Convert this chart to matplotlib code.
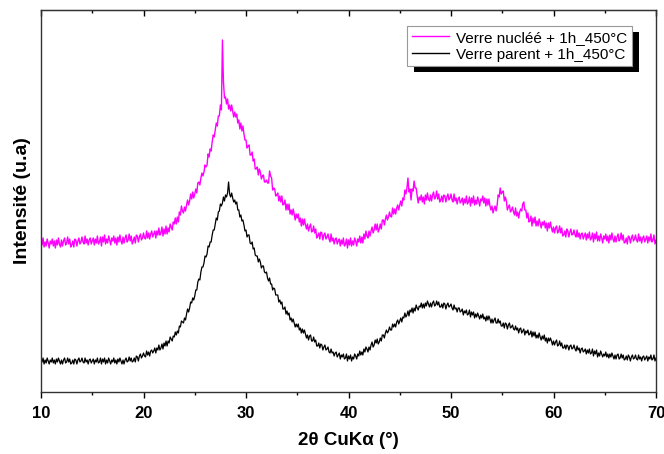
import numpy as np
import matplotlib
matplotlib.use("Agg")
import matplotlib.pyplot as plt
from matplotlib.patches import Rectangle
from matplotlib.ticker import MultipleLocator

plt.rcParams['font.family'] = ['Liberation Sans', 'DejaVu Sans']

# 2-theta grid: 10 -> 70 deg, step 0.1 (10 points per degree)
two_theta = np.round(np.arange(10.0, 70.0001, 0.1), 1)

# Intensity (a.u.), 10 values per degree
nuclee = [
    152, 147, 154, 145, 150, 146, 153, 149, 144, 151,   # 10
    148, 153, 146, 151, 144, 152, 147, 154, 148, 145,   # 11
    152, 146, 151, 154, 147, 149, 155, 148, 153, 145,   # 12
    147, 151, 145, 153, 152, 146, 151, 154, 148, 150,   # 13
    155, 150, 148, 156, 149, 153, 147, 152, 154, 148,   # 14
    151, 154, 147, 153, 149, 156, 148, 150, 155, 146,   # 15
    155, 150, 157, 148, 153, 149, 156, 152, 147, 154,   # 16
    151, 156, 149, 154, 147, 155, 150, 157, 151, 148,   # 17
    155, 149, 154, 157, 150, 152, 158, 151, 156, 148,   # 18
    151, 155, 149, 157, 156, 150, 155, 158, 152, 154,   # 19
    159, 154, 153, 161, 154, 159, 153, 158, 161, 155,   # 20
    158, 161, 154, 161, 157, 164, 157, 159, 165, 156,   # 21
    163, 158, 166, 158, 164, 160, 168, 165, 162, 170,   # 22
    168, 174, 168, 175, 170, 180, 177, 186, 181, 179,   # 23
    185, 181, 187, 192, 187, 191, 198, 193, 200, 194,   # 24
    198, 203, 199, 209, 210, 207, 214, 219, 216, 220,   # 25
    227, 225, 227, 238, 235, 243, 241, 250, 257, 255,   # 26
    262, 269, 266, 276, 276, 287, 282, 352, 310, 294,   # 27
    295, 288, 293, 283, 287, 281, 287, 281, 275, 280,   # 28
    275, 278, 269, 272, 263, 269, 261, 266, 258, 252,   # 29
    252, 244, 246, 247, 237, 237, 240, 231, 233, 223,   # 30
    223, 225, 217, 223, 220, 213, 216, 217, 210, 210,   # 31
    212, 209, 209, 221, 216, 214, 202, 204, 203, 196,   # 32
    197, 199, 191, 196, 190, 196, 187, 188, 192, 182,   # 33
    188, 182, 188, 178, 182, 177, 183, 178, 172, 178,   # 34
    174, 178, 170, 174, 166, 173, 167, 173, 167, 163,   # 35
    168, 161, 165, 168, 160, 161, 166, 159, 163, 154,   # 36
    156, 159, 153, 160, 159, 152, 157, 159, 153, 155,   # 37
    158, 153, 150, 158, 151, 154, 148, 153, 154, 148,   # 38
    151, 153, 146, 152, 148, 154, 146, 148, 153, 144,   # 39
    152, 147, 154, 146, 151, 147, 154, 151, 146, 153,   # 40
    150, 156, 149, 155, 149, 158, 153, 161, 156, 154,   # 41
    161, 156, 161, 165, 159, 162, 168, 162, 168, 160,   # 42
    163, 168, 163, 172, 172, 167, 173, 177, 172, 175,   # 43
    180, 176, 175, 184, 178, 183, 178, 184, 187, 182,   # 44
    187, 191, 186, 194, 192, 202, 198, 204, 214, 200,   # 45
    203, 192, 203, 201, 211, 204, 204, 196, 189, 195,   # 46
    192, 197, 190, 195, 188, 197, 192, 199, 193, 191,   # 47
    197, 191, 197, 200, 193, 195, 201, 193, 198, 190,   # 48
    192, 196, 190, 197, 196, 190, 195, 198, 192, 194,   # 49
    198, 192, 190, 198, 191, 194, 188, 193, 195, 189,   # 50
    191, 194, 187, 193, 189, 196, 188, 190, 195, 186,   # 51
    194, 189, 196, 187, 192, 188, 195, 191, 186, 193,   # 52
    191, 196, 189, 194, 186, 193, 187, 193, 186, 182,   # 53
    186, 179, 183, 186, 181, 187, 197, 195, 204, 198,   # 54
    200, 201, 191, 195, 191, 182, 185, 187, 180, 182,   # 55
    185, 180, 177, 184, 176, 180, 174, 180, 183, 181,   # 56
    188, 190, 182, 182, 174, 179, 170, 171, 176, 166,   # 57
    174, 169, 175, 166, 171, 166, 173, 169, 164, 170,   # 58
    167, 171, 164, 169, 161, 169, 164, 170, 164, 160,   # 59
    165, 159, 164, 166, 159, 161, 166, 159, 164, 156,   # 60
    157, 161, 155, 163, 161, 155, 160, 163, 157, 158,   # 61
    162, 157, 155, 162, 155, 159, 153, 158, 159, 153,   # 62
    156, 159, 152, 158, 154, 160, 152, 154, 159, 150,   # 63
    158, 153, 160, 151, 156, 151, 158, 154, 149, 156,   # 64
    153, 158, 151, 156, 149, 157, 152, 159, 153, 150,   # 65
    156, 150, 155, 158, 151, 153, 159, 152, 157, 149,   # 66
    150, 154, 148, 156, 155, 149, 154, 157, 151, 153,   # 67
    157, 152, 150, 158, 151, 155, 149, 154, 156, 150,   # 68
    153, 156, 149, 155, 151, 158, 150, 152, 157, 148,   # 69
    152,                                                # 70
]

parent = [
    33, 30, 34, 28, 32, 29, 34, 31, 28, 32,   # 10
    30, 34, 29, 32, 28, 33, 30, 34, 31, 28,   # 11
    32, 28, 32, 34, 29, 30, 34, 30, 33, 28,   # 12
    29, 32, 28, 33, 32, 28, 32, 34, 30, 31,   # 13
    34, 30, 29, 34, 30, 32, 28, 32, 33, 29,   # 14
    31, 33, 28, 32, 30, 34, 29, 30, 34, 28,   # 15
    33, 30, 34, 28, 32, 29, 34, 31, 28, 32,   # 16
    30, 34, 29, 32, 28, 33, 30, 34, 31, 28,   # 17
    32, 28, 32, 34, 30, 31, 35, 31, 34, 30,   # 18
    31, 34, 30, 36, 35, 31, 36, 38, 34, 36,   # 19
    39, 36, 35, 41, 37, 40, 36, 41, 42, 39,   # 20
    41, 44, 39, 44, 42, 47, 42, 44, 48, 43,   # 21
    49, 46, 51, 46, 51, 49, 55, 53, 51, 56,   # 22
    55, 60, 57, 61, 59, 66, 65, 71, 70, 69,   # 23
    74, 72, 78, 83, 80, 84, 90, 89, 94, 92,   # 24
    96, 102, 102, 110, 113, 112, 120, 125, 125, 129,   # 25
    136, 135, 138, 146, 145, 150, 150, 157, 162, 162,  # 26
    168, 174, 172, 180, 181, 188, 186, 189, 195, 191,  # 27
    197, 195, 199, 210, 198, 195, 199, 194, 190, 192,  # 28
    188, 190, 182, 182, 175, 177, 171, 172, 167, 161,  # 29
    162, 155, 157, 157, 149, 148, 150, 143, 144, 137,  # 30
    136, 136, 130, 133, 130, 124, 126, 126, 120, 119,  # 31
    120, 114, 111, 114, 108, 108, 102, 104, 103, 97,   # 32
    97, 97, 90, 92, 88, 90, 83, 83, 85, 78,   # 33
    81, 77, 79, 72, 74, 70, 73, 69, 65, 68,   # 34
    65, 68, 62, 64, 59, 63, 59, 62, 58, 54,   # 35
    57, 52, 56, 57, 51, 51, 55, 50, 52, 46,   # 36
    46, 49, 44, 48, 47, 42, 45, 47, 42, 43,   # 37
    45, 40, 39, 43, 39, 40, 36, 39, 40, 35,   # 38
    37, 39, 33, 37, 35, 38, 33, 34, 38, 31,   # 39
    36, 33, 37, 31, 35, 33, 38, 36, 33, 38,   # 40
    36, 41, 37, 40, 37, 43, 40, 45, 43, 40,   # 41
    45, 42, 47, 50, 45, 47, 52, 49, 53, 48,   # 42
    50, 54, 51, 57, 57, 54, 59, 62, 59, 61,   # 43
    65, 62, 62, 68, 65, 68, 65, 70, 72, 68,   # 44
    71, 74, 70, 75, 74, 79, 75, 77, 81, 76,   # 45
    82, 80, 84, 79, 84, 81, 87, 84, 82, 86,   # 46
    85, 89, 84, 88, 84, 89, 86, 91, 88, 85,   # 47
    89, 85, 89, 91, 86, 87, 91, 87, 90, 85,   # 48
    85, 88, 84, 89, 88, 83, 87, 89, 85, 86,   # 49
    88, 84, 82, 87, 83, 84, 80, 84, 84, 80,   # 50
    81, 83, 77, 81, 79, 82, 77, 78, 82, 75,   # 51
    80, 77, 80, 74, 78, 75, 79, 76, 73, 77,   # 52
    74, 78, 73, 75, 71, 76, 72, 76, 73, 69,   # 53
    73, 69, 72, 74, 69, 69, 73, 69, 71, 66,   # 54
    66, 69, 64, 69, 68, 63, 67, 69, 64, 65,   # 55
    67, 63, 62, 66, 62, 64, 59, 63, 64, 59,   # 56
    61, 63, 57, 61, 59, 62, 57, 58, 61, 55,   # 57
    60, 56, 60, 54, 57, 54, 59, 55, 52, 56,   # 58
    53, 57, 51, 54, 49, 54, 51, 54, 51, 47,   # 59
    51, 47, 50, 52, 46, 47, 51, 46, 49, 44,   # 60
    44, 47, 43, 47, 46, 42, 46, 47, 43, 44,   # 61
    47, 43, 41, 46, 42, 44, 39, 43, 44, 40,   # 62
    41, 43, 38, 42, 39, 43, 38, 39, 43, 36,   # 63
    41, 38, 42, 35, 39, 36, 41, 38, 35, 38,   # 64
    36, 40, 35, 38, 34, 38, 35, 39, 36, 33,   # 65
    37, 33, 37, 38, 33, 34, 38, 34, 37, 32,   # 66
    33, 36, 32, 37, 35, 31, 35, 37, 33, 34,   # 67
    37, 33, 32, 37, 33, 35, 31, 35, 36, 32,   # 68
    34, 36, 31, 35, 33, 37, 32, 33, 37, 31,   # 69
    34,                                       # 70
]

labels = ["Verre nucléé + 1h_450°C", "Verre parent + 1h_450°C"]
x_ticks = [10, 20, 30, 40, 50, 60, 70]

W, H = 664, 454
fig = plt.figure(figsize=(W / 100, H / 100), dpi=100)
ax = fig.add_axes([41 / W, 1 - 392 / H, (656 - 41) / W, (392 - 10) / H])

ax.plot(two_theta, nuclee, color='#FF00FF', lw=1.0, label=labels[0])
ax.plot(two_theta, parent, color='black', lw=0.9, label=labels[1])

ax.set_xlim(10, 70)
ax.set_ylim(0, 382)
ax.set_yticks([])
ax.set_xticks(x_ticks)
ax.xaxis.set_minor_locator(MultipleLocator(5))
ax.tick_params(axis='x', which='major', direction='out', length=4, width=1.0,
               labelsize=12, pad=6)
ax.tick_params(axis='x', which='minor', direction='out', length=2.5, width=1.0)
for lab in ax.get_xticklabels():
    lab.set_fontweight('bold')
for sp in ax.spines.values():
    sp.set_linewidth(1.0)
    sp.set_color('#333333')

top = ax.secondary_xaxis('top')
top.set_xticks(x_ticks)
top.xaxis.set_minor_locator(MultipleLocator(5))
top.tick_params(which='major', direction='in', length=4, width=1.0, labeltop=False)
top.tick_params(which='minor', direction='in', length=2.5, width=1.0)
top.set_xticklabels([])

ax.set_xlabel('2θ CuKα (°)', fontsize=13.5, fontweight='bold', labelpad=8)
ax.set_ylabel('Intensité (u.a)', fontsize=14, fontweight='bold', labelpad=7)

leg = ax.legend(loc='upper right', bbox_to_anchor=(632 / W, 1 - 26 / H),
                bbox_transform=fig.transFigure, borderaxespad=0,
                fancybox=False, framealpha=1, edgecolor='#999999',
                fontsize=11, handlelength=2.4, handletextpad=0.5,
                borderpad=0.3, labelspacing=0.2)
leg.get_frame().set_linewidth(0.8)
for ln in leg.get_lines():
    ln.set_linewidth(1.0)

fig.canvas.draw()
bb = leg.get_window_extent()
shadow = Rectangle((bb.x0 + 7, bb.y0 - 6), bb.width, bb.height,
                   transform=None, facecolor='black', edgecolor='none',
                   zorder=4.9, clip_on=False)
ax.add_artist(shadow)

fig.savefig('out.png', dpi=100)
